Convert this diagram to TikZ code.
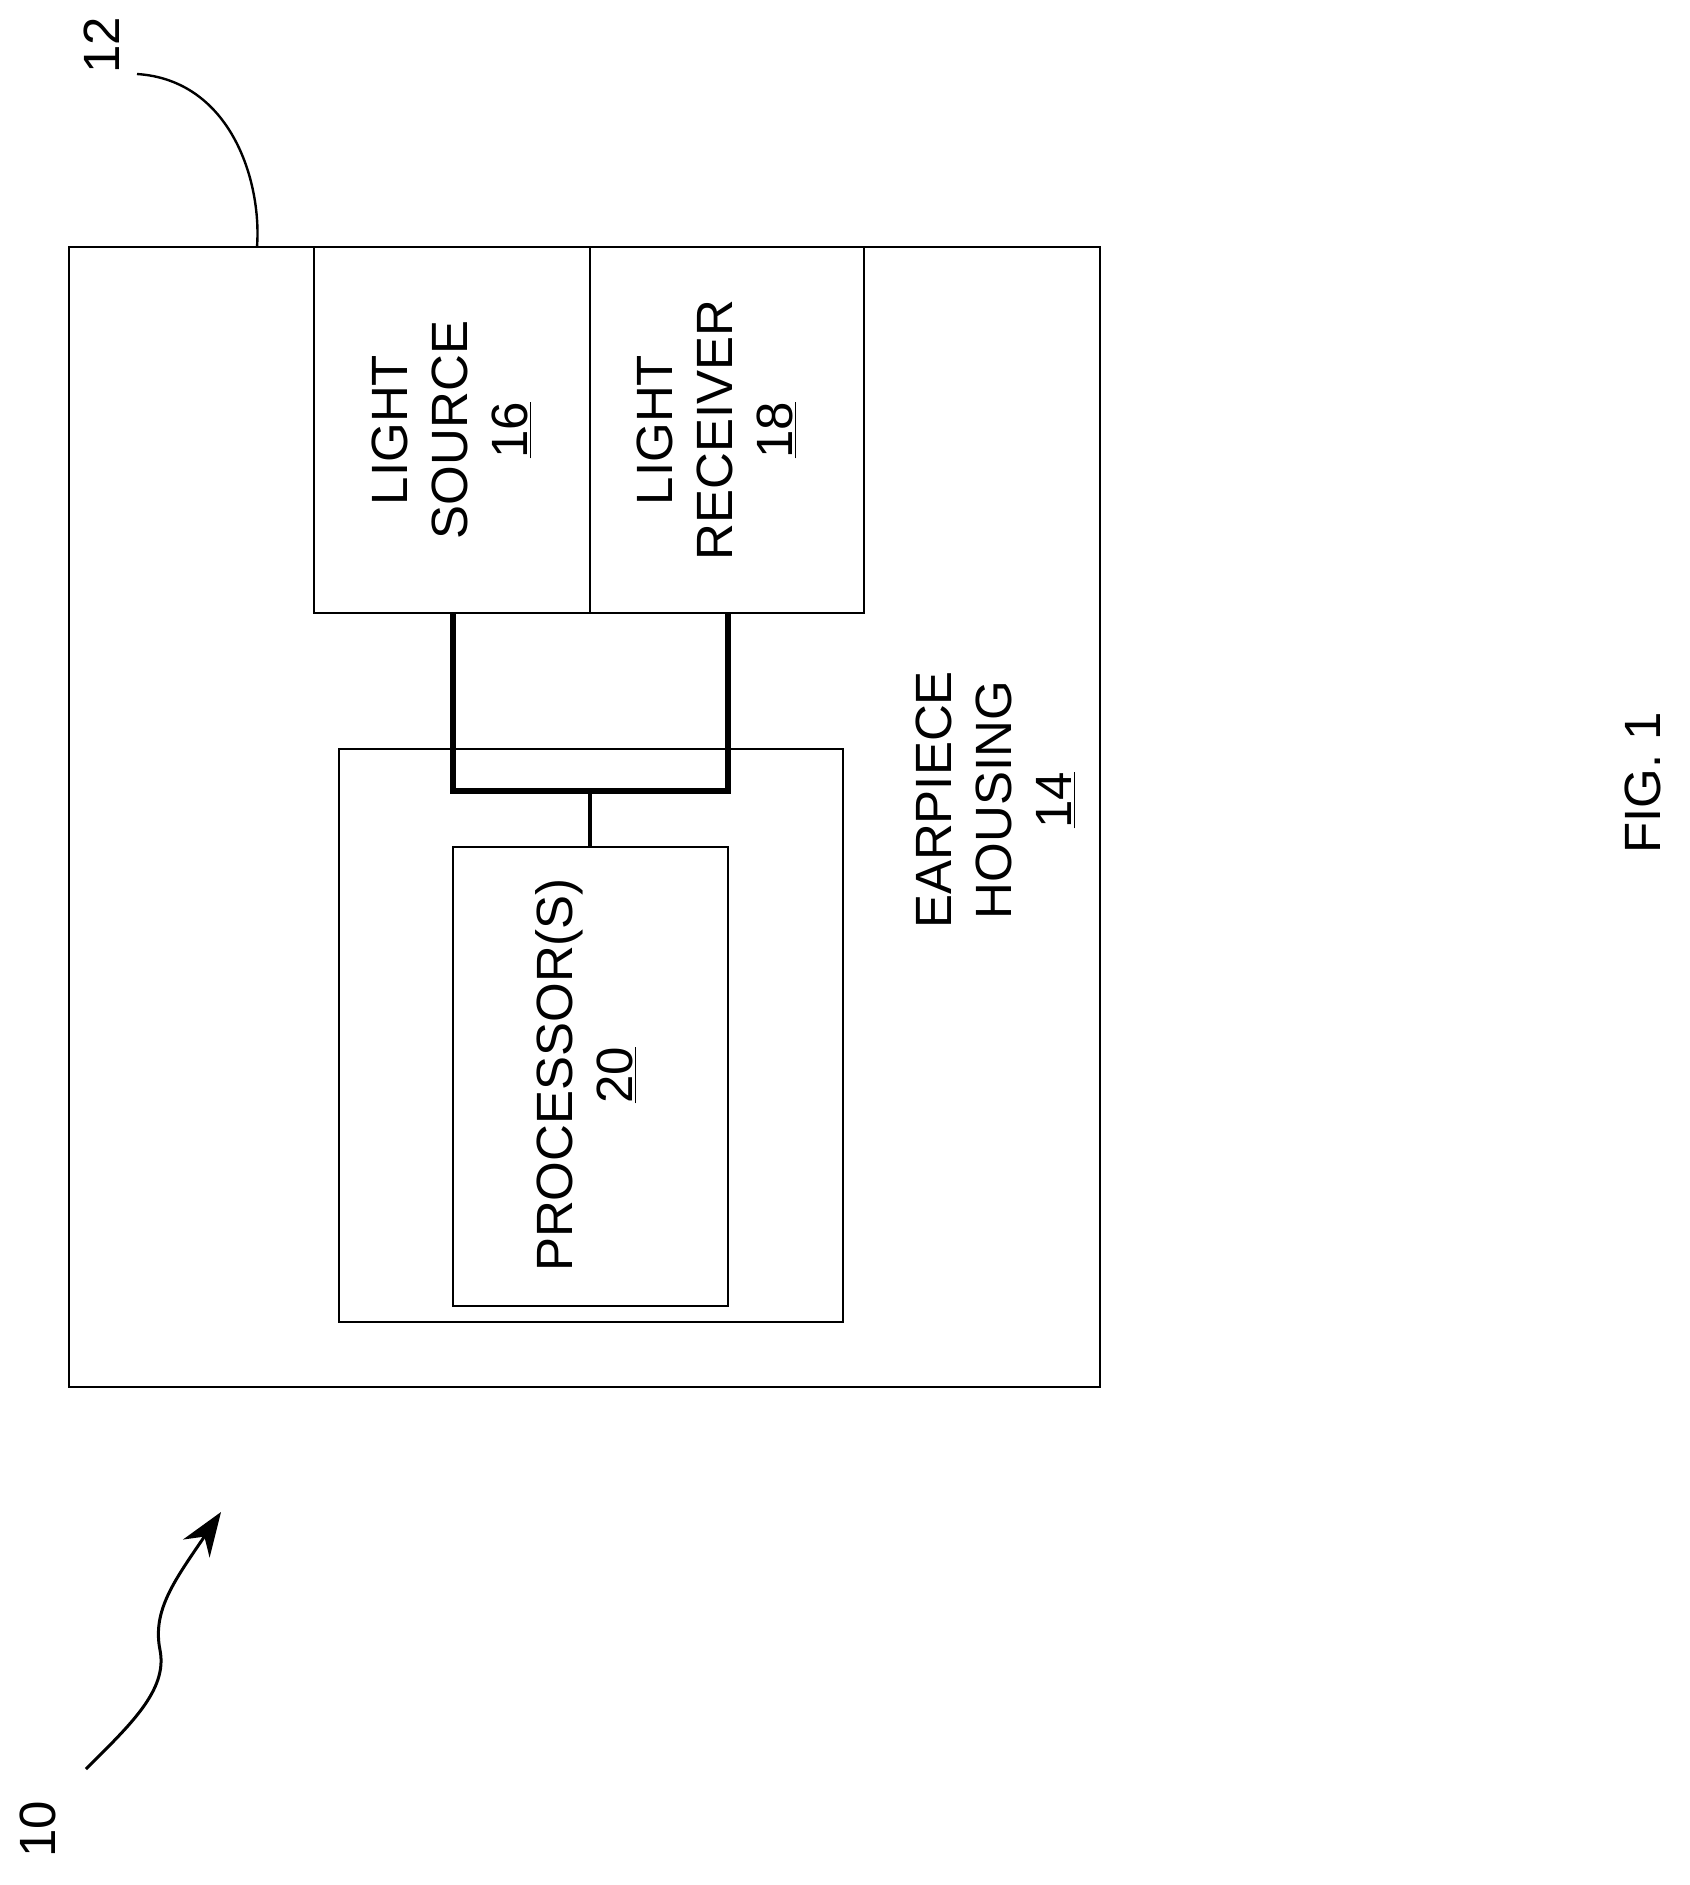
\documentclass[tikz,border=0pt]{standalone}
\usepackage{fontspec}
\setmainfont{Liberation Sans}
\usetikzlibrary{arrows.meta}
\begin{document}
\begin{tikzpicture}[x=0.5pt,y=-0.5pt,
  box/.style={draw,line width=1pt},
  thick line/.style={line width=2.6pt},
  lbl/.style={rotate=90,align=center,font=\fontsize{25.5}{30}\selectfont}]
\useasboundingbox (0,0) rectangle (1690,1885);
\draw[box] (69,247) rectangle (1100,1387);
\draw[box] (314,247) rectangle (590,613);
\draw[box] (590,247) rectangle (864,613);
\draw[box] (339,749) rectangle (843,1322);
\draw[box] (453,847) rectangle (728,1306);
\coordinate (ls) at (453,613);
\coordinate (lr) at (728,613);
\coordinate (j1) at (453,791);
\coordinate (j2) at (728,791);
\coordinate (jm) at (590,791);
\coordinate (pt) at (590,847);
\draw[thick line] (ls) -- (j1) -- (j2) -- (lr);
\draw[line width=1.6pt] (jm) -- (pt);
\node[lbl] (src) at (452,430) {LIGHT\\SOURCE\\\underline{16}};
\node[lbl] (rcv) at (717,430) {LIGHT\\RECEIVER\\\underline{18}};
\node[lbl] (hs) at (996,800) {EARPIECE\\HOUSING\\\underline{14}};
\node[lbl] (pr) at (586,1075) {PROCESSOR(S)\\\underline{20}};
\node[lbl] (fig) at (1643,783) {FIG. 1};
\node[lbl] (n12) at (102,45) {12};
\node[lbl] (n10) at (38,1829) {10};
\coordinate (c12a) at (137,74);
\coordinate (c12b) at (257,247);
\draw[line width=1.2pt] (c12a) .. controls (230,80) and (262,180) .. (c12b);
\coordinate (c10a) at (86,1769);
\coordinate (c10b) at (221,1512);
\draw[line width=1.5pt,-{Stealth[length=22pt,width=16pt]}] (c10a) .. controls (130,1725) and (168,1690) .. (160,1650) .. controls (152,1610) and (175,1580) .. (c10b);
\end{tikzpicture}
\end{document}
